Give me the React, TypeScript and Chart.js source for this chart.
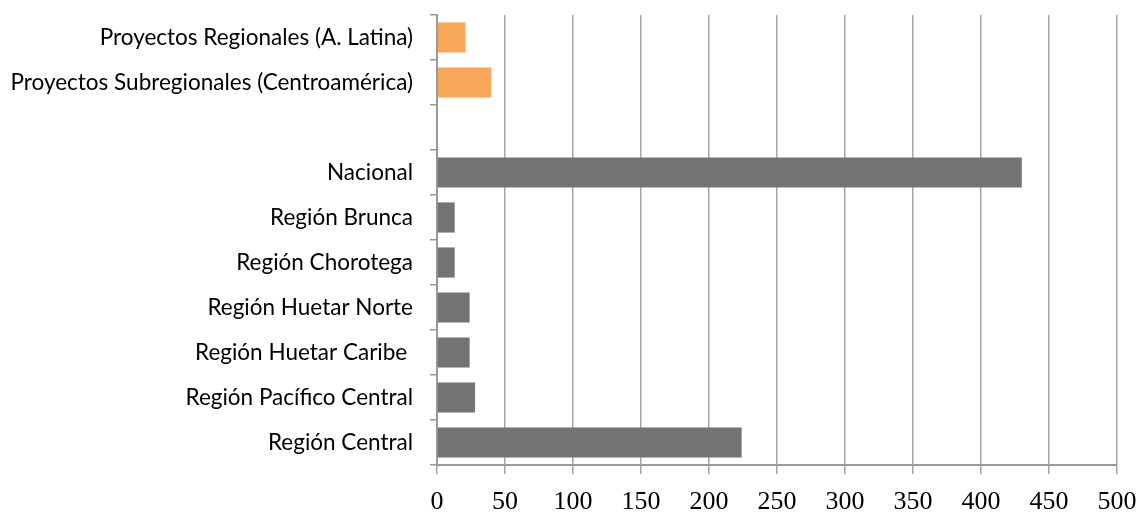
import React, { useEffect, useRef } from "react";
import { Chart, registerables } from "chart.js";

Chart.register(...registerables);

const categories = [
  "Proyectos Regionales (A. Latina)",
  "Proyectos Subregionales (Centroamérica)",
  "",
  "Nacional",
  "Región Brunca",
  "Región Chorotega",
  "Región Huetar Norte",
  "Región Huetar Caribe ",
  "Región Pacífico Central",
  "Región Central",
];

const values: (number | null)[] = [21, 40, null, 430, 13, 13, 24, 24, 28, 224];

const barColors = [
  "#F9A85A",
  "#F9A85A",
  "#737373",
  "#737373",
  "#737373",
  "#737373",
  "#737373",
  "#737373",
  "#737373",
  "#737373",
];

const xMin = 0;
const xMax = 500;
const xStep = 50;

export default function App() {
  const ref = useRef<HTMLCanvasElement | null>(null);

  useEffect(() => {
    if (!ref.current) return;
    const chart = new Chart(ref.current, {
      type: "bar",
      data: {
        labels: categories,
        datasets: [
          {
            data: values,
            backgroundColor: barColors,
            borderWidth: 0,
            categoryPercentage: 1,
            barPercentage: 0.67,
          },
        ],
      },
      options: {
        indexAxis: "y",
        animation: false,
        responsive: false,
        maintainAspectRatio: false,
        layout: { padding: { top: 15, right: 21, bottom: 0, left: 0 } },
        plugins: {
          legend: { display: false },
          tooltip: { enabled: false },
        },
        scales: {
          x: {
            min: xMin,
            max: xMax,
            ticks: {
              stepSize: xStep,
              color: "#000",
              font: { family: "Liberation Serif", size: 26 },
              padding: 13,
            },
            grid: {
              color: "#A6A6A6",
              lineWidth: 1.5,
              tickLength: 9,
            },
            border: { color: "#999999", width: 2 },
            afterFit: (scale: any) => {
              scale.height = 47;
              scale.paddingLeft = 0;
              scale.paddingRight = 0;
            },
          },
          y: {
            ticks: {
              color: "#000",
              font: { family: "Lato", size: 22.5 },
              padding: 17,
            },
            grid: {
              drawOnChartArea: false,
              color: "#999999",
              lineWidth: 1.5,
              tickLength: 7,
              offset: true,
            },
            border: { color: "#999999", width: 2 },
            afterFit: (scale: any) => {
              scale.width = 437;
              scale.paddingTop = 0;
              scale.paddingBottom = 0;
            },
          },
        },
      },
    });
    return () => chart.destroy();
  }, []);

  return (
    <div style={{ position: "fixed", left: 0, top: 0, width: 1138, height: 512, background: "#fff" }}>
      <canvas ref={ref} width={1138} height={512} style={{ width: 1138, height: 512 }} />
    </div>
  );
}
